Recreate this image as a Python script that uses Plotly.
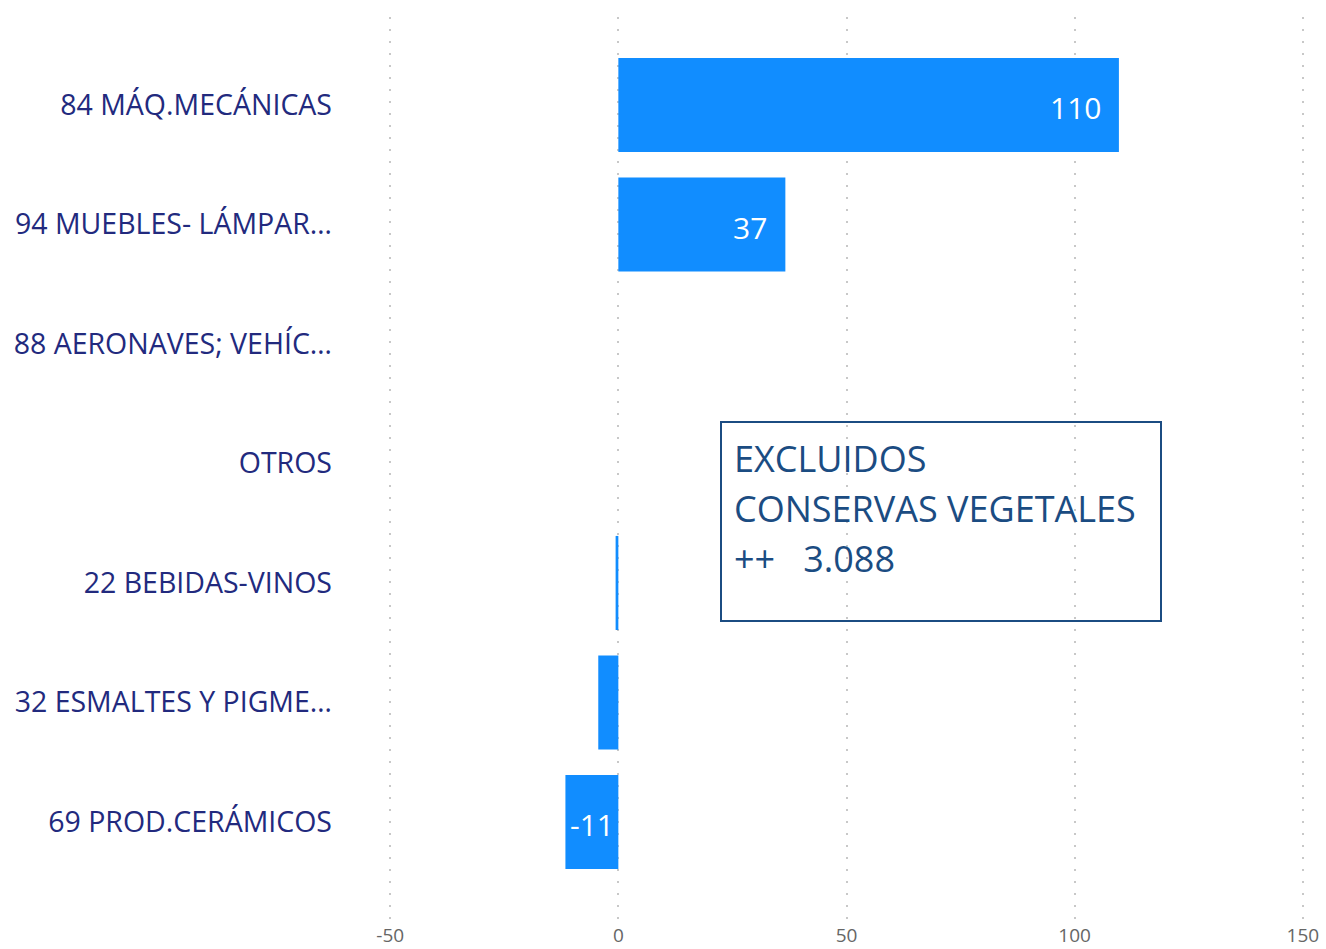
import plotly.graph_objects as go

categories = ["84 MÁQ.MECÁNICAS", "94 MUEBLES- LÁMPAR…", "88 AERONAVES; VEHÍC…", "OTROS",
              "22 BEBIDAS-VINOS", "32 ESMALTES Y PIGME…", "69 PROD.CERÁMICOS"]
values = [109.7, 36.6, 0.0, 0.0, -0.6, -4.4, -11.6]
labels = ["110", "37", "", "", "", "", "-11"]
x_ticks = [-50, 0, 50, 100, 150]
note_lines = ["EXCLUIDOS", "CONSERVAS VEGETALES", "++&nbsp;&nbsp; 3.088"]

BAR = "#118DFF"
NAVY = "#222A7E"
BOXC = "#1B4C82"
FONT = "Open Sans"

fig = go.Figure()
fig.add_trace(go.Bar(
    y=categories, x=values, orientation="h",
    marker=dict(color=BAR, line=dict(width=0)),
    hoverinfo="x+y",
))

for cat, v, lab in zip(categories, values, labels):
    if not lab:
        continue
    if v >= 0:
        fig.add_annotation(x=v, y=cat, xref="x", yref="y", text=lab, showarrow=False,
                           xanchor="right", xshift=-16, yshift=-3,
                           font=dict(family=FONT, size=30, color="white"))
    else:
        fig.add_annotation(x=0, y=cat, xref="x", yref="y", text=lab, showarrow=False,
                           xanchor="right", xshift=-2, yshift=-3,
                           font=dict(family=FONT, size=30, color="white"))

# plot area in pixels: x 387..1306, y 17..919
L, R, T, B = 387, 20, 17, 30
PW, PH = 1326 - L - R, 949 - T - B

def px(x):
    return (x - L) / PW

def py(y):
    return (949 - B - y) / PH

# note box
fig.add_shape(type="rect", xref="paper", yref="paper",
              x0=px(721), x1=px(1161), y0=py(621), y1=py(422),
              line=dict(color=BOXC, width=2), fillcolor="rgba(255,255,255,0)")
line_px = [458, 508, 558]
for txt, yy in zip(note_lines, line_px):
    fig.add_annotation(xref="paper", yref="paper", x=px(732), y=py(yy),
                       xanchor="left", yanchor="middle", align="left", showarrow=False,
                       text=txt, font=dict(family=FONT, size=36, color=BOXC))

fig.update_layout(
    width=1326, height=949,
    margin=dict(l=L, r=R, t=T, b=B),
    paper_bgcolor="white", plot_bgcolor="white",
    bargap=0.213, showlegend=False,
    font=dict(family=FONT),
)
fig.update_xaxes(range=[-50.7, 150.7], tickvals=x_ticks, ticktext=[str(t) for t in x_ticks],
                 showgrid=True, gridcolor="#c8c8c8", griddash="2px,10px", gridwidth=2,
                 zeroline=False, showline=False, ticks="", automargin=False,
                 tickfont=dict(family=FONT, size=19, color="#666666"),
                 ticklabelstandoff=3)
fig.update_yaxes(range=[6.812, -0.736], showgrid=False, zeroline=False, showline=False,
                 ticks="", automargin=False, tickfont=dict(family=FONT, size=28.5, color=NAVY),
                 ticklabelstandoff=54)

fig.write_html("out.html", config={"displayModeBar": False},
               post_script="document.body.style.margin='0';document.body.style.overflow='hidden';")
